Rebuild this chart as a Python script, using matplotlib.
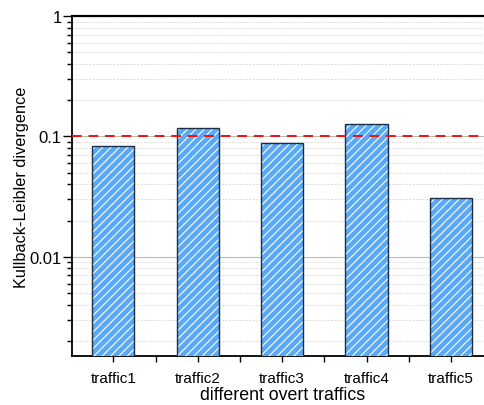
import numpy as np
import matplotlib.pyplot as plt
from matplotlib.ticker import LogLocator, FixedLocator, NullFormatter

plt.rcParams['font.family'] = ['Liberation Sans', 'DejaVu Sans']
plt.rcParams['hatch.linewidth'] = 0.8

# KL divergence per traffic type
traffics = ['traffic1', 'traffic2', 'traffic3', 'traffic4', 'traffic5']
kl_div = [0.0836, 0.1165, 0.0885, 0.1265, 0.0306]
threshold = 0.1

x = np.arange(1, len(traffics) + 1)

fig = plt.figure(figsize=(4.84, 4.06), dpi=100)
ax = fig.add_axes([0.1488, 0.1207, 0.87, 0.8374])

# fill + white hatching, then dark outline on top
ax.bar(x, kl_div, width=0.5, color='#5aa9f6', edgecolor='white',
       hatch='////', linewidth=0, zorder=3)
ax.bar(x, kl_div, width=0.5, fill=False, edgecolor='#1c2e44',
       linewidth=1.0, zorder=4)

ax.axhline(threshold, color='#ee1111', linestyle=(0, (5, 3.5)),
           linewidth=1.4, zorder=5)

ax.set_yscale('log')
ax.set_ylim(0.0015, 1)
ax.set_xlim(0.51, 5.5)

ax.set_xticks(x)
ax.set_xticklabels(traffics, fontsize=11)
ax.xaxis.set_minor_locator(FixedLocator(x[:-1] + 0.5))
ax.set_yticks([0.01, 0.1, 1])
ax.set_yticklabels(['0.01', '0.1', '1'], fontsize=12)
ax.yaxis.set_minor_locator(LogLocator(base=10, subs=np.arange(2, 10), numticks=20))
ax.yaxis.set_minor_formatter(NullFormatter())

ax.tick_params(axis='y', which='major', direction='out', length=6.5, width=1.0, pad=1)
ax.tick_params(axis='y', which='minor', direction='out', length=3.5, width=1.0)
ax.tick_params(axis='x', which='both', direction='out', length=4.5, width=1.0, pad=6)

ax.grid(True, which='major', axis='y', color='#bbbbbb', linewidth=0.8, zorder=0)
ax.grid(True, which='minor', axis='y', color='#dddddd', linestyle=(0, (2, 1.5)),
        linewidth=0.7, zorder=0)

for side in ['top', 'left', 'bottom']:
    ax.spines[side].set_linewidth(1.3)
ax.spines['top'].set_linewidth(1.6)

ax.set_xlabel('different overt traffics', fontsize=12.8, va='center')
ax.xaxis.set_label_coords(0.5, -0.113)
ax.set_ylabel('Kullback-Leibler divergence', fontsize=11.7, va='center')
ax.yaxis.set_label_coords(-0.12, 0.5)

fig.savefig('out.png', dpi=100)
